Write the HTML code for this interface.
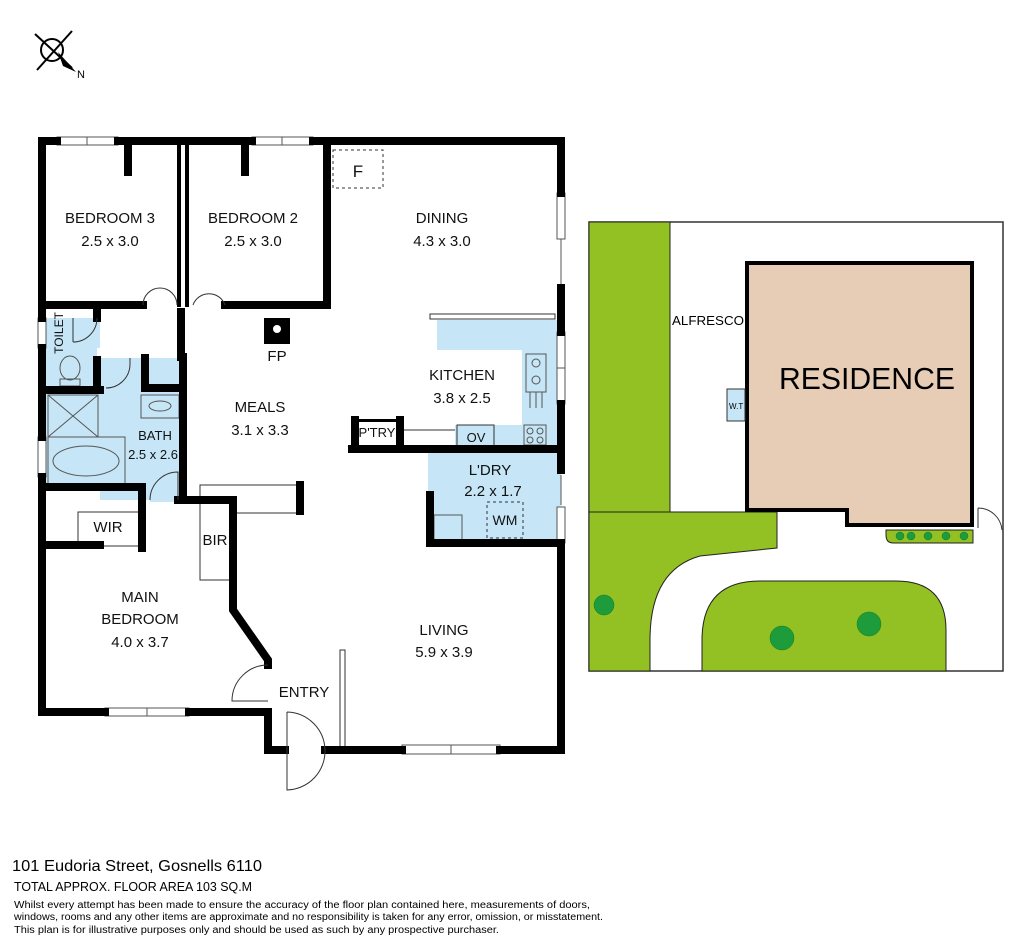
<!DOCTYPE html>
<html><head><meta charset="utf-8"><style>
html,body{margin:0;padding:0;background:#fff;}
svg{display:block;font-family:"Liberation Sans",sans-serif;}
</style></head><body>
<svg width="1024" height="952" viewBox="0 0 1024 952" xmlns="http://www.w3.org/2000/svg">
<rect width="1024" height="952" fill="#fff"/>
<!-- compass -->
<g stroke="#000" stroke-width="2" fill="none">
<line x1="35" y1="34" x2="72" y2="68"/>
<line x1="72" y1="31" x2="37" y2="70"/>
<circle cx="52" cy="50" r="11"/>
</g>
<polygon points="58,52 76,72 63,66" fill="#000"/>
<text x="77" y="78" font-size="11">N</text>

<!-- blue wet areas -->
<g fill="#c6e6f7">
<rect x="46" y="318" width="51" height="70"/>
<rect x="100" y="358" width="80" height="142"/>
<rect x="46" y="393" width="56" height="92"/>
<rect x="150" y="480" width="30" height="22"/>
<path d="M437 320 H557 V446 H455 V425 H522 V350 H437 Z"/>
<rect x="428" y="452" width="133" height="92"/>
<rect x="73" y="318" width="27" height="30"/>
</g>
<!-- fixtures -->
<g fill="none" stroke="#555" stroke-width="1">
<rect x="48" y="395" width="50" height="42"/><line x1="48" y1="395" x2="98" y2="437"/><line x1="98" y1="395" x2="48" y2="437"/>
<rect x="48" y="437" width="77" height="48"/><ellipse cx="86" cy="461" rx="33" ry="15"/>
<rect x="141" y="395" width="38" height="23"/><ellipse cx="160" cy="406" rx="11" ry="5"/>
<ellipse cx="70" cy="368" rx="10" ry="12"/><rect x="60" y="379" width="20" height="7"/>
<rect x="526" y="354" width="20" height="38"/><circle cx="536" cy="363" r="4"/><circle cx="536" cy="380" r="4"/>
<line x1="530" y1="392" x2="530" y2="408"/><line x1="536" y1="392" x2="536" y2="408"/><line x1="542" y1="392" x2="542" y2="408"/>
<rect x="524" y="425" width="22" height="20"/><circle cx="530" cy="431" r="3"/><circle cx="540" cy="431" r="3"/><circle cx="530" cy="440" r="3"/><circle cx="540" cy="440" r="3"/>
<rect x="434" y="515" width="28" height="25"/>
<rect x="457" y="425" width="37" height="21" stroke="#333"/>
</g>
<rect x="487" y="502" width="36" height="36" fill="none" stroke="#333" stroke-dasharray="3,3"/>
<rect x="333" y="150" width="50" height="38" fill="none" stroke="#333" stroke-dasharray="3,3"/>
<!-- thin elements -->
<g fill="#fff" stroke="#333" stroke-width="1">
<rect x="430" y="314" width="125" height="5"/>
<rect x="200" y="485" width="100" height="28"/>
<rect x="200" y="500" width="33" height="80"/>
<rect x="340" y="650" width="5" height="98"/>
<rect x="78" y="512" width="67" height="34"/>
<line x1="402" y1="430" x2="455" y2="430"/>
</g>
<!-- windows -->
<g fill="#fff" stroke="#555" stroke-width="1">
<rect x="57" y="137" width="61" height="8"/><line x1="87" y1="137" x2="87" y2="145"/>
<rect x="252" y="137" width="61" height="8"/><line x1="282" y1="137" x2="282" y2="145"/>
<rect x="557" y="193" width="8" height="46"/>
<rect x="557" y="332" width="8" height="72"/><line x1="557" y1="368" x2="565" y2="368"/>
<rect x="557" y="507" width="8" height="36"/>
<rect x="38" y="318" width="8" height="30"/>
<rect x="38" y="437" width="8" height="40"/>
<rect x="105" y="708" width="84" height="8"/><line x1="147" y1="708" x2="147" y2="716"/>
<rect x="402" y="745" width="98" height="9"/><line x1="451" y1="745" x2="451" y2="754"/>
</g>
<g stroke="#555" stroke-width="1">
<line x1="561" y1="239" x2="561" y2="284"/><line x1="561" y1="475" x2="561" y2="505"/>
</g>
<!-- walls -->
<g stroke="#000" stroke-width="8" fill="none" stroke-linecap="square">
<path d="M42 141 H57 M118 141 H252 M313 141 H561 V193"/>
<path d="M561 288 V332 M561 404 V470 M561 543 V750 H500 M402 750 H325"/>
<path d="M42 141 V318 M42 348 V437 M42 477 V712 H105 M189 712 H268 V750 H285"/>
<path d="M128 141 V172 M245 141 V172"/>
<path d="M42 305 H143 M225 305 H327 V141"/>
<path d="M179 141 V305 M187 141 V305" stroke-width="4"/>
<path d="M97 310 V318 M97 360 V388 M42 390 H100"/>
<path d="M145 358 V388 H180 M183 357 V500 M181 312 V357"/>
<path d="M42 487 H142 V548 M48 545 H100"/>
<path d="M178 500 H233 V610 L268 660 V665"/>
<path d="M430 495 V543 H561 M352 449 H561 M355 420 V449 M400 420 V449"/>
<path d="M300 485 V511"/>
</g>
<rect x="352" y="419" width="50" height="3" fill="#000"/>
<!-- FP -->
<rect x="264" y="318" width="26" height="26" fill="#000"/><circle cx="277" cy="329" r="4" fill="#fff"/>
<!-- doors -->
<g fill="none" stroke="#333" stroke-width="1">
<path d="M143 305 A17 17 0 0 1 177 305"/>
<path d="M193 305 A17 17 0 0 1 225 305"/>
<path d="M97 318 A24 24 0 0 1 73 342 M73 318 V342"/>
<path d="M106 388 A24 24 0 0 0 130 364 V358"/>
<path d="M150 500 A28 28 0 0 1 178 472 V500"/>
<path d="M268 665 A36 36 0 0 0 232 701 H268"/>
<path d="M287 712 V790 A39 39 0 0 0 325 750 A39 39 0 0 0 287 712"/>
</g>
<!-- labels -->
<g font-size="15" text-anchor="middle" fill="#111">
<text x="110" y="223">BEDROOM 3</text><text x="110" y="246">2.5 x 3.0</text>
<text x="253" y="223">BEDROOM 2</text><text x="253" y="246">2.5 x 3.0</text>
<text x="442" y="223">DINING</text><text x="442" y="246">4.3 x 3.0</text>
<text x="358" y="177" font-size="17">F</text>
<text x="277" y="361">FP</text>
<text x="462" y="380">KITCHEN</text><text x="462" y="403">3.8 x 2.5</text>
<text x="260" y="412">MEALS</text><text x="260" y="435">3.1 x 3.3</text>
<text x="155" y="440" font-size="13">BATH</text><text x="153" y="459" font-size="13">2.5 x 2.6</text>
<text x="377" y="437" font-size="13">P'TRY</text>
<text x="476" y="442" font-size="13">OV</text>
<text x="490" y="475">L'DRY</text><text x="493" y="496">2.2 x 1.7</text>
<text x="505" y="525" font-size="14">WM</text>
<text x="108" y="532">WIR</text>
<text x="215" y="545">BIR</text>
<text x="140" y="602">MAIN</text><text x="140" y="624">BEDROOM</text><text x="140" y="647">4.0 x 3.7</text>
<text x="444" y="635">LIVING</text><text x="444" y="657">5.9 x 3.9</text>
<text x="304" y="697">ENTRY</text>
<text x="0" y="0" font-size="12" transform="translate(63,333) rotate(-90)">TOILET</text>
</g>

<!-- site plan -->
<rect x="589" y="222" width="414" height="449" fill="#fff" stroke="#333" stroke-width="1.5"/>
<rect x="589" y="222" width="81" height="290" fill="#93c022" stroke="#222" stroke-width="1"/>
<path d="M589 512 H777 V548 L700 556 Q650 570 650 640 V671 H589 Z" fill="#93c022" stroke="#222" stroke-width="1"/>
<path d="M702 671 V640 Q702 581 760 581 H896 Q946 581 946 630 V671 Z" fill="#93c022" stroke="#222" stroke-width="1"/>
<path d="M886 530 H973 V543 H893 Q886 543 886 535 Z" fill="#93c022" stroke="#222" stroke-width="1"/>
<g fill="#1e9b3a" stroke="#137a2a" stroke-width="0.5">
<circle cx="900" cy="536" r="4"/><circle cx="911" cy="536" r="4"/><circle cx="928" cy="536" r="4"/><circle cx="946" cy="536" r="4"/><circle cx="964" cy="536" r="4"/>
<circle cx="604" cy="605" r="10"/><circle cx="782" cy="638" r="12"/><circle cx="869" cy="624" r="12"/>
</g>
<path d="M747 263 H972 V525 H847 V510 H747 Z" fill="#e7cdb5" stroke="#000" stroke-width="4"/>
<rect x="727" y="389" width="18" height="32" fill="#c6e6f7" stroke="#333" stroke-width="1"/>
<text x="729" y="409" font-size="8">W.T</text>
<text x="672" y="325" font-size="13" textLength="72" lengthAdjust="spacingAndGlyphs">ALFRESCO</text>
<text x="779" y="389" font-size="31" textLength="176" lengthAdjust="spacingAndGlyphs">RESIDENCE</text>
<path d="M978 508 A24 24 0 0 1 1002 530 M978 508 V528" fill="none" stroke="#333" stroke-width="1"/>

<!-- footer -->
<text x="12" y="871" font-size="16" textLength="250" lengthAdjust="spacingAndGlyphs">101 Eudoria Street, Gosnells 6110</text>
<text x="14" y="891" font-size="12.5" textLength="238" lengthAdjust="spacingAndGlyphs">TOTAL APPROX. FLOOR AREA 103 SQ.M</text>
<text x="14" y="908" font-size="10" textLength="576" lengthAdjust="spacingAndGlyphs">Whilst every attempt has been made to ensure the accuracy of the floor plan contained here, measurements of doors,</text>
<text x="14" y="920" font-size="10" textLength="589" lengthAdjust="spacingAndGlyphs">windows, rooms and any other items are approximate and no responsibility is taken for any error, omission, or misstatement.</text>
<text x="14" y="933" font-size="10" textLength="485" lengthAdjust="spacingAndGlyphs">This plan is for illustrative purposes only and should be used as such by any prospective purchaser.</text>
</svg>
</body></html>
